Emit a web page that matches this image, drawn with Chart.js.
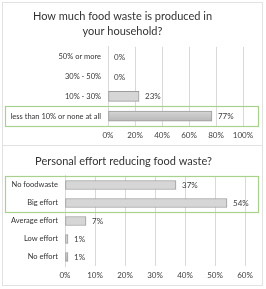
<!DOCTYPE html>
<html>
<head>
<meta charset="utf-8">
<script src="https://cdn.jsdelivr.net/npm/chart.js@4/dist/chart.umd.min.js"></script>
<style>
html,body{margin:0;padding:0;background:#fff;}
body{width:266px;height:289px;position:relative;overflow:hidden;font-family:Lato,sans-serif;}
.box{position:absolute;border:1px solid #e2e2e2;box-sizing:border-box;}
#b1{left:2px;top:2px;width:261px;height:144px;}
#b2{left:2px;top:145px;width:261px;height:141px;}
#w1{position:absolute;left:2px;top:2px;width:260px;height:143px;}
#w2{position:absolute;left:2px;top:145px;width:260px;height:140px;}
</style>
</head>
<body>
<div class="box" id="b1"></div>
<div class="box" id="b2"></div>
<div id="w1"><canvas id="c1"></canvas></div>
<div id="w2"><canvas id="c2"></canvas></div>
<script>
// Chart 1 data
const wasteTitle = ["How much food waste is produced in", "your household?"];
const wasteCategories = ["50% or more", "30% - 50%", "10% - 30%", "less than 10% or none at all"];
const wasteValues = [0, 0, 23, 77];
const wasteHighlight = [3];
const wasteTicks = [0, 20, 40, 60, 80, 100];

// Chart 2 data
const effortTitle = "Personal effort reducing food waste?";
const effortCategories = ["No foodwaste", "Big effort", "Average effort", "Low effort", "No effort"];
const effortValues = [37, 54, 7, 1, 1];
const effortHighlight = [0, 1];
const effortTicks = [0, 10, 20, 30, 40, 50, 60];

const FONT = 'Lato, sans-serif';

const labelPlugin = {
  id: 'valLabels',
  beforeDatasetsDraw(chart) {
    const meta = chart.getDatasetMeta(0);
    meta.data.forEach(bar => {
      if (!Number.isFinite(bar.y) || !bar.height) return;
      const h = bar.height;
      const g = chart.ctx.createLinearGradient(0, bar.y - h / 2, 0, bar.y + h / 2);
      g.addColorStop(0, '#d6d6d6');
      g.addColorStop(0.5, '#c6c6c6');
      g.addColorStop(1, '#b8b8b8');
      bar.options.backgroundColor = g;
    });
  },
  afterDatasetsDraw(chart) {
    const ctx = chart.ctx;
    const meta = chart.getDatasetMeta(0);
    const data = chart.data.datasets[0].data;
    ctx.save();
    ctx.font = '8px ' + FONT;
    ctx.fillStyle = '#404040';
    ctx.textBaseline = 'middle';
    ctx.textAlign = 'left';
    meta.data.forEach((bar, i) => {
      ctx.fillText(data[i] + '%', bar.x + 6, bar.y + 0.5);
    });
    ctx.restore();
  }
};

const highlightPlugin = {
  id: 'highlight',
  afterDraw(chart, args, opts) {
    const idx = opts.rows || [];
    if (!idx.length) return;
    const y = chart.scales.y;
    const n = chart.data.labels.length;
    const band = (y.bottom - y.top) / n;
    const first = Math.min(...idx), last = Math.max(...idx);
    const top = y.getPixelForValue(first) - band / 2;
    const bot = y.getPixelForValue(last) + band / 2;
    const ctx = chart.ctx;
    ctx.save();
    ctx.strokeStyle = '#a9d18e';
    ctx.lineWidth = 1.2;
    ctx.strokeRect(3.5, Math.round(top) + 0.5, chart.width - 7, Math.round(bot - top));
    ctx.restore();
  }
};

function makeChart(id, cfg) {
  return new Chart(document.getElementById(id), {
    type: 'bar',
    data: {
      labels: cfg.labels,
      datasets: [{
        data: cfg.values,
        backgroundColor: '#c6c6c6',
        borderColor: '#9c9c9c',
        borderWidth: 1,
        borderSkipped: false,
        barThickness: cfg.thick
      }]
    },
    options: {
      indexAxis: 'y',
      responsive: true,
      maintainAspectRatio: false,
      animation: false,
      layout: { padding: { left: 0, right: cfg.padRight, top: 0, bottom: 0 } },
      plugins: {
        legend: { display: false },
        tooltip: { enabled: false },
        title: {
          display: true,
          text: cfg.title,
          color: '#333333',
          font: { family: FONT, size: 11, weight: 'normal', lineHeight: 1.45 },
          padding: cfg.titlePad
        },
        highlight: { rows: cfg.highlight }
      },
      scales: {
        x: {
          min: 0,
          max: cfg.max,
          afterBuildTicks(scale) { scale.ticks = cfg.ticks.map(v => ({ value: v })); },
          ticks: {
            color: '#404040',
            font: { family: FONT, size: 8 },
            padding: 5,
            maxRotation: 0,
            callback: v => v + '%'
          },
          grid: { color: '#d9d9d9', drawTicks: false, lineWidth: 1 },
          border: { display: false },
          afterFit(scale) { scale.height = cfg.xHeight; }
        },
        y: {
          ticks: {
            color: '#333333',
            font: { family: FONT, size: 7.5 },
            padding: 7,
            autoSkip: false
          },
          grid: { display: false, drawTicks: false },
          border: { display: true, color: '#d9d9d9' },
          afterFit(scale) { scale.width = cfg.yWidth; }
        }
      }
    },
    plugins: [labelPlugin, highlightPlugin]
  });
}

makeChart('c1', {
  labels: wasteCategories, values: wasteValues, title: wasteTitle, highlight: wasteHighlight,
  ticks: wasteTicks, max: 100, thick: 10, padRight: 19, yWidth: 106, xHeight: 19,
  titlePad: { top: 6, bottom: 7 }
});
makeChart('c2', {
  labels: effortCategories, values: effortValues, title: effortTitle, highlight: effortHighlight,
  ticks: effortTicks, max: 60, thick: 9, padRight: 17, yWidth: 63, xHeight: 19,
  titlePad: { top: 8, bottom: 7 }
});
</script>
</body>
</html>
